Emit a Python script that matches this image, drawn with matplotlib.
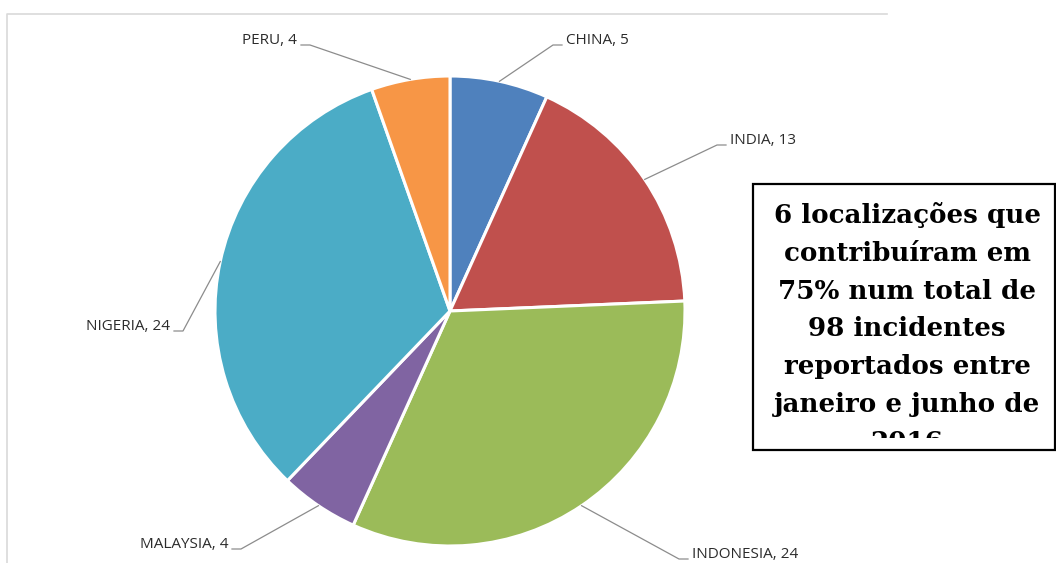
import matplotlib.pyplot as plt
import matplotlib.patches as mpatches
import numpy as np

countries = ['CHINA', 'INDIA', 'INDONESIA', 'MALAYSIA', 'NIGERIA', 'PERU']
incidents = [5, 13, 24, 4, 24, 4]
colors = ['#4F81BD', '#C0504D', '#9BBB59', '#8064A2', '#4BACC6', '#F79646']

note_lines = ['6 localizações que', 'contribuíram em', '75% num total de',
              '98 incidentes', 'reportados entre', 'janeiro e junho de', '2016']

# layout in pixel coords (top-down), converted below
W, H = 1056, 563
cx, cy, R = 450, 311, 235
# label text anchor (x, y center, ha)
label_pos = [(566, 41, 'left'), (730, 141, 'left'), (692, 555, 'left'),
             (228, 545, 'right'), (170, 327, 'right'), (297, 41, 'right')]

fig = plt.figure(figsize=(W / 100, H / 100), dpi=100)
ax = fig.add_axes([0, 0, 1, 1])

wedges, _ = ax.pie(incidents, colors=colors, startangle=90, counterclock=False,
                   center=(cx, H - cy), radius=R,
                   wedgeprops=dict(edgecolor='white', linewidth=2.2))
ax.set_xlim(0, W)
ax.set_ylim(0, H)
ax.set_aspect('equal')
ax.axis('off')

# chart area border (only top and left visible)
ax.plot([7, 7, 887], [0, H - 14, H - 14], color='#d9d9d9', lw=1.2)

# data labels with leader lines
for w, name, val, (tx, ty, ha) in zip(wedges, countries, incidents, label_pos):
    mid = np.deg2rad((w.theta1 + w.theta2) / 2)
    px = cx + R * np.cos(mid)
    py = H - cy + R * np.sin(mid)
    sgn = -1 if ha == 'left' else 1
    ly = H - (ty + 4)
    ax.plot([px, tx + sgn * 13, tx + sgn * 4], [py, ly, ly], color='#8c8c8c', lw=0.9)
    ax.text(tx, H - ty, f'{name}, {val}', ha=ha, va='center', fontsize=11,
            family='Open Sans', color='#2b2b2b')

# text box on the right, last line cut off like the original
box = mpatches.Rectangle((753, H - 450), 302, 266, fill=False, edgecolor='black', lw=1.6)
ax.add_patch(box)
clip = mpatches.Rectangle((753, H - 438), 302, 254, transform=ax.transData)
for i, line in enumerate(note_lines):
    t = ax.text(907, H - (223 + i * 37.8), line, ha='center', va='baseline',
                fontsize=18.8, fontweight='bold', family='DejaVu Serif', color='black',
                clip_on=True)
    t.set_clip_path(clip)

fig.savefig('out.png', dpi=100)
